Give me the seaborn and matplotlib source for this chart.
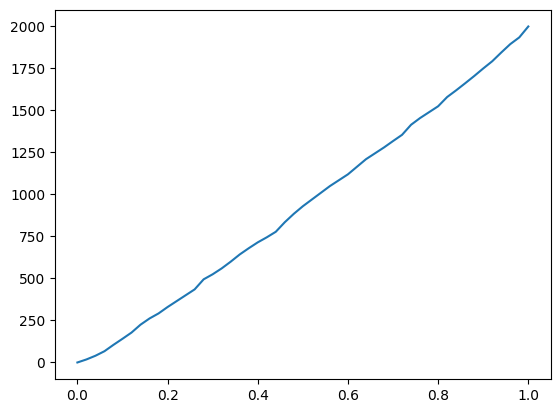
import matplotlib
matplotlib.use("Agg")
import matplotlib.pyplot as plt
import seaborn as sns
import pandas as pd

# --- Dados ---
x_vals = [i / 50 for i in range(51)]
y_vals = [0, 18, 40, 67, 105, 141, 178, 225, 262, 292,
          330, 365, 400, 435, 495, 525, 560, 600, 643, 680,
          715, 745, 778, 835, 885, 930, 970, 1010, 1050, 1085,
          1120, 1165, 1210, 1245, 1280, 1318, 1355, 1415, 1455, 1490,
          1525, 1580, 1620, 1662, 1705, 1750, 1793, 1845, 1895, 1935,
          2000]

df = pd.DataFrame({"x": x_vals, "y": y_vals})

fig, ax = plt.subplots(figsize=(6.4, 4.8), dpi=100)
sns.lineplot(data=df, x="x", y="y", ax=ax)
ax.set_xlabel("")
ax.set_ylabel("")
plt.savefig("out.png", bbox_inches="tight")
plt.close()
